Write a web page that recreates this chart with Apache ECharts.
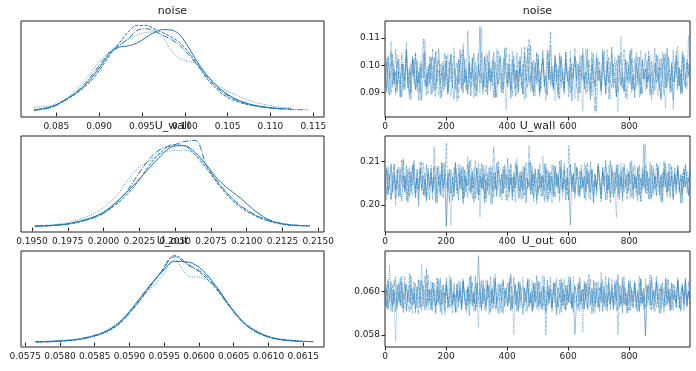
<!DOCTYPE html>
<html><head><meta charset="utf-8">
<script src="https://cdn.jsdelivr.net/npm/echarts@6/dist/echarts.min.js"></script>
<style>html,body{margin:0;padding:0;background:#fff}#c{width:696px;height:371px}</style>
</head><body><div id="c"></div>
<script>
// ---- parameter names ----
const paramNames = ['noise', 'U_wall', 'U_out'];

// ---- KDE evaluation grids (parameter values) and densities per chain ----
const noiseKdeX = [0.0824,0.0834,0.0844,0.0854,0.0864,0.0874,0.0884,0.0894,0.0904,0.0914,0.0924,0.0934,0.0944,0.0954,0.0964,0.0974,0.0984,0.0994,0.1004,0.1014,0.1024,0.1034,0.1044,0.1054,0.1064,0.1074,0.1084,0.1094,0.1104,0.1114,0.1124,0.1134,0.1144];
const noiseKde1 = [2.7,3.6,5.4,8.7,13.2,18.6,25.2,34.2,44.7,55.2,59.4,60.6,63,67.8,72.6,75.3,75,70.8,59.7,46.8,35.7,26.7,19.8,14.7,10.8,8.1,6.3,5.1,4.2,3.6,3.3];
const noiseKde2 = [2.4,3.3,5.1,8.4,12.6,17.7,23.7,31.8,42.6,53.7,63.6,73.2,79.2,79.2,76.2,72.6,68.7,63.6,55.2,44.7,32.7,23.7,16.8,12.3,9.3,7.2,5.7,4.8,3.9,3.3];
const noiseKde3 = [4.8,5.4,6.6,9.6,14.4,21.6,29.7,40.2,49.2,56.7,61.8,66.6,70.2,72.6,73.2,68.7,56.7,49.2,46.8,43.8,35.7,27.6,22.2,18,14.4,11.4,9,7.2,5.7,4.8,4.2];
const noiseKde4 = [2.1,3,4.8,8.1,13.2,19.2,26.7,36.3,46.8,55.8,61.2,67.2,74.4,76.2,74.4,70.2,66.6,61.2,52.8,43.8,34.2,25.2,18.6,13.8,10.2,7.8,6,4.8,3.9,3.3,3,2.7,2.7];

const uwallKdeX = [0.1952,0.1960,0.1968,0.1976,0.1984,0.1992,0.2000,0.2008,0.2016,0.2024,0.2032,0.2040,0.2048,0.2056,0.2064,0.2072,0.2080,0.2088,0.2096,0.2104,0.2112,0.2120,0.2128,0.2136,0.2144];
const uwallKde1 = [2.7,3.2,4.3,6.4,10.7,16.1,24.7,38.6,55.7,74.5,94.3,113.6,128.1,129.7,119,98.6,76.1,60,46.1,30,16.6,8.6,4.8,3.2,2.7];
const uwallKde2 = [2.1,2.7,3.8,5.9,9.6,15,23.6,35.4,51.5,72.9,98.6,119,130.8,129.7,114.7,93.3,69.1,47.7,31.6,20.9,12.9,7.5,4.3,3.2,2.7];
const uwallKde3 = [3.2,3.8,5.4,8.6,13.9,20.9,31.6,47.7,71.8,94.3,105.1,117.4,121.7,122.2,115.8,95.9,71.8,50.4,34.3,22.5,13.9,8.6,5.4,3.8,3.2];
const uwallKde4 = [2.1,2.7,3.8,5.9,9.6,15,22.5,37,56.8,83.6,108.3,124.4,129.7,136,138,98,71.8,50.4,34.3,22.5,13.9,8.6,5.4,3.8];

const uoutKdeX = [0.05765,0.05785,0.05805,0.05825,0.05845,0.05865,0.05885,0.05905,0.05925,0.05945,0.05965,0.05985,0.06005,0.06025,0.06045,0.06065,0.06085,0.06105,0.06125,0.06145,0.06165];
const uoutKde1 = [10,14,21,31,59,111,204,363,550,709,834,827,744,578,370,204,107,52,24,14,10];
const uoutKde2 = [7,10,17,31,59,104,190,343,526,723,896,803,699,550,363,197,100,48,24,14,10];
const uoutKde3 = [3,7,17,35,66,121,215,353,516,664,848,682,664,571,377,211,114,52,31,17,10];
const uoutKde4 = [7,10,21,35,66,111,197,349,536,716,882,792,716,561,363,197,100,48,28,17];

// ---- trace samples (every ~5th draw, 4 chains) ----
const noiseTr1 = [.0921,.1012,.0948,.0889,.0996,.1041,.0932,.0975,.0903,.1023,.0958,.0884,.1006,.0942,.1052,.0917,.0981,.0899,.1034,.0963,
.0908,.1019,.0935,.0993,.0871,.0987,.1047,.0926,.0964,.1003,.0893,.0951,.1028,.0912,.0979,.1061,.0938,.0885,.0997,.0944,
.1015,.0902,.0969,.1039,.0924,.0876,.0983,.1008,.0931,.1057,.0956,.0897,.1024,.0949,.0913,.1001,.0887,.0972,.1044,.0936,
.0905,.0989,.1142,.0953,.0918,.1031,.0966,.0891,.1011,.0941,.0976,.1049,.0922,.0883,.0995,.1027,.0947,.0909,.1062,.0958,
.0929,.1004,.0878,.0968,.1036,.0915,.0982,.0899,.1018,.0952,.0894,.1043,.0962,.0919,.0991,.1072,.0934,.0886,.1009,.0945,
.1022,.0904,.0973,.1054,.0927,.0961,.0889,.1013,.0948,.0998,.0916,.1038,.0957,.0881,.0985,.1026,.0939,.0902,.1048,.0967,
.0923,.0994,.0869,.0978,.1033,.0943,.1005,.0897,.0959,.1041,.0912,.0986,.1059,.0931,.0874,.1002,.0954,.0921,.1029,.0946,
.0983,.0906,.1046,.0965,.0893,.1017,.0937,.0976,.1067,.0918,.0951,.0885,.0999,.1035,.0928,.0971,.0902,.1021,.0944,.0988,
.1056,.0913,.0962,.0879,.1007,.0949,.1031,.0924,.0896,.0981,.1045,.0935,.0967,.0891,.1014,.0958,.0908,.1039,.0941,.0992,
.0873,.0979,.1025,.0917,.1063,.0952,.0899,.1003,.0938,.0969,.1034,.0911,.0985,.0894,.1051,.0947,.0926,.1012,.0964,.0988];
const noiseTr2 = [.0988,.0914,.1031,.0952,.0896,.1017,.0943,.1058,.0927,.0979,.0883,.1004,.0961,.0909,.1039,.0936,.0993,.0872,.1022,.0957,
.1046,.0918,.0974,.0901,.1013,.1097,.0945,.0889,.0998,.0931,.1027,.0966,.0905,.1052,.0939,.0984,.0877,.1008,.0953,.0921,
.1036,.0897,.0969,.1043,.0916,.0991,.0942,.0868,.1019,.0962,.0908,.1061,.0934,.0981,.0893,.1011,.0947,.1029,.0923,.0975,
.0886,.1002,.0958,.1048,.0912,.0967,.0899,.1037,.0944,.0989,.0926,.1016,.0879,.0971,.1054,.0937,.0903,.0996,.1024,.0951,
.0917,.1041,.0963,.0888,.1006,.0948,.0982,.0911,.1033,.0959,.0894,.1069,.0941,.0976,.1097,.0929,.1012,.0901,.0968,.1045,
.0935,.0884,.0994,.1026,.0919,.0973,.1057,.0946,.1125,.0955,.0907,.1018,.0938,.0986,.0874,.1035,.0964,.0913,.1049,.0942,
.0979,.0896,.1009,.0954,.1028,.0922,.0869,.0997,.0949,.1063,.0931,.0977,.0904,.1021,.0961,.0888,.1042,.0939,.0832,.0984,
.1014,.0925,.0958,.1053,.0899,.0972,.1031,.0944,.0915,.1007,.0953,.0882,.1038,.0967,.0921,.0993,.1059,.0936,.0876,.1001,
.0948,.1024,.0909,.0975,.1047,.0928,.0962,.0893,.1016,.0951,.0987,.0912,.1034,.0945,.0873,.0998,.1064,.0934,.0969,.0905,
.1027,.0957,.0891,.1043,.0939,.0981,.0918,.1011,.0872,.0964,.1052,.0926,.0994,.0902,.1036,.0949,.0916,.1022,.0968,.0941];
const noiseTr3 = [.0947,.1026,.0895,.0983,.1089,.0932,.0971,.0906,.1038,.0954,.0881,.1013,.0962,.0919,.1058,.0941,.0876,.0996,.1021,.0929,
.1047,.0905,.0967,.0867,.1009,.0953,.1096,.0918,.0985,.0938,.1032,.0897,.0974,.1051,.0926,.0889,.1003,.0959,.1016,.0912,
.0978,.1042,.0934,.0884,.0991,.1066,.0945,.0903,.1024,.0961,.0917,.1081,.0937,.0972,.0894,.1035,.0952,.0986,.0879,.1012,
.0944,.1003,.0898,.1138,.0963,.0921,.1044,.0936,.0989,.0907,.1019,.0955,.0885,.1061,.0931,.0976,.0899,.1029,.0948,.0836,
.1007,.0966,.0914,.1053,.0939,.0981,.0891,.1017,.0958,.1066,.0925,.0873,.0995,.1037,.0942,.0904,.1012,.0969,.0887,.1049,
.0934,.0979,.0911,.1028,.0956,.0896,.1041,.0947,.1073,.0922,.0988,.0869,.1006,.0951,.1034,.0916,.0974,.0893,.1023,.0962,
.0938,.1055,.0908,.0984,.0877,.1015,.0949,.1038,.0927,.0831,.0997,.1062,.0935,.0968,.0902,.1026,.0954,.0918,.1047,.0943,
.0981,.0889,.1011,.0966,.0924,.1059,.0937,.0875,.1003,.0958,.1032,.0914,.0829,.0992,.1106,.0945,.0906,.1019,.0971,.0933,
.1044,.0898,.0964,.1027,.0919,.0986,.0882,.1055,.0952,.0976,.0907,.1016,.0943,.1038,.0895,.0969,.1004,.0929,.0887,.1021,
.0962,.1049,.0911,.0842,.0998,.1033,.0939,.0975,.0839,.1013,.0956,.1071,.0924,.0985,.0901,.1028,.0947,.0966,.1109,.0931];
const noiseTr4 = [.0971,.0902,.1035,.0949,.1052,.0917,.0984,.0889,.1019,.0958,.0931,.1044,.0908,.0976,.1084,.0938,.0893,.1006,.0962,.1027,
.0914,.0981,.0874,.1011,.0953,.1043,.0922,.0968,.0896,.1031,.0947,.1059,.0919,.0885,.0997,.1023,.0936,.0973,.0906,.1048,
.0957,.0891,.1014,.0942,.0979,.1036,.0912,.0964,.0878,.1002,.1041,.0928,.0986,.0904,.1128,.0951,.0919,.1024,.0945,.0887,
.1008,.1045,.0933,.0969,.0891,.1029,.0958,.0913,.1057,.0939,.0982,.0878,.1012,.0961,.0926,.1038,.0948,.0897,.0994,.1066,
.0934,.0975,.0909,.1021,.0954,.0885,.1047,.0941,.0987,.0916,.1004,.0952,.0882,.1068,.0937,.0972,.0903,.1018,.0963,.0929,
.1039,.0895,.0979,.1011,.0944,.0871,.0992,.1053,.0925,.0967,.0911,.1032,.0956,.0898,.1046,.0938,.0985,.0917,.1007,.0959,
.0884,.1024,.0947,.0973,.1061,.0921,.0901,.0996,.1035,.0942,.0968,.0893,.1017,.0955,.0912,.1049,.0933,.0826,.0988,.1027,
.0946,.0907,.1058,.0964,.0924,.1003,.0876,.0981,.1039,.0937,.0962,.1021,.0897,.0989,.1046,.0915,.0953,.0883,.1012,.0971,
.0929,.1063,.0944,.0905,.0997,.1031,.0958,.0889,.1024,.0949,.0986,.0918,.1052,.0936,.0974,.0892,.1009,.0961,.1037,.0923,
.0878,.0993,.1044,.0947,.0915,.1028,.0966,.0902,.1055,.0938,.0981,.1015,.0926,.0969,.0897,.1041,.0952,.0913,.1006,.0975];

const uwallTr1 = [.2038,.2081,.2024,.2063,.2095,.2031,.2072,.2015,.2058,.2087,.2042,.2009,.2069,.2034,.2091,.2053,.2019,.2077,.2046,.2103,
.2027,.2061,.1998,.2084,.2039,.2068,.2021,.2093,.2049,.2012,.2075,.2035,.2089,.2057,.2004,.2066,.2028,.2098,.2043,.2071,
.1952,.2059,.2083,.2026,.2064,.2033,.2096,.2047,.2011,.2079,.2036,.2088,.2018,.2062,.2045,.2101,.2029,.2073,.2007,.2055,
.2084,.2023,.2067,.2041,.2092,.2014,.2058,.2032,.2086,.2049,.2003,.2074,.2037,.2097,.2052,.2019,.2069,.2028,.2081,.2044,
.2108,.2031,.2063,.2011,.2076,.2039,.2093,.2056,.2017,.2068,.2034,.2087,.2005,.2061,.2042,.2099,.2025,.2072,.2048,.2013,
.2082,.2036,.2066,.2021,.2094,.2051,.2008,.2078,.2033,.2065,.2019,.2089,.2046,.2071,.2027,.2104,.2038,.2059,.2012,.2085,
.2043,.1954,.2068,.2031,.2097,.2055,.2022,.2079,.2037,.2062,.2016,.2091,.2048,.2074,.2029,.2083,.2006,.2057,.2039,.2096,
.2064,.2024,.2087,.2045,.2011,.2073,.2034,.2102,.2052,.2018,.2076,.2041,.2093,.2026,.2065,.2009,.2084,.2047,.2071,.2032,
.2098,.2056,.2015,.2069,.2038,.2088,.2023,.2061,.2044,.2139,.2027,.2079,.2049,.2013,.2092,.2036,.2067,.2021,.2085,.2053,
.2008,.2074,.2042,.2096,.2031,.2063,.2017,.2089,.2046,.2072,.2025,.2083,.2051,.2004,.2067,.2039,.2094,.2058,.2022,.2076];
const uwallTr2 = [.2071,.2025,.2089,.2043,.2012,.2066,.2094,.2034,.2057,.2019,.2082,.2047,.2103,.2028,.2069,.2006,.2075,.2041,.2092,.2053,
.2016,.2084,.2037,.2062,.2099,.2023,.2059,.2013,.2078,.2046,.2091,.2032,.2068,.2008,.2086,.2051,.2021,.2097,.2039,.2064,
.2143,.2029,.2073,.2044,.2011,.2088,.2055,.2026,.2093,.2036,.2067,.2002,.2081,.2048,.2017,.2074,.2104,.2038,.2061,.2014,
.2085,.2049,.2024,.2096,.2033,.2071,.2009,.2063,.2042,.2089,.2052,.2018,.2077,.2035,.2101,.2056,.2027,.2083,.2045,.2012,
.2069,.2039,.2094,.2021,.2062,.2007,.2087,.2048,.2031,.2079,.2015,.2065,.2098,.2037,.2054,.2023,.2091,.2043,.2072,.2003,
.2081,.2052,.2019,.2068,.2034,.2095,.2046,.2013,.2076,.2058,.2026,.2089,.2041,.2064,.2008,.2083,.2036,.2097,.2049,.2022,
.2137,.2067,.2031,.2074,.2015,.2086,.2054,.2028,.2092,.2043,.2061,.2011,.2079,.2038,.2101,.2047,.2024,.2069,.2033,.2088,
.2056,.2014,.2075,.2045,.2096,.2027,.2063,.2005,.2082,.2051,.2034,.2093,.2018,.2071,.2042,.2087,.2029,.2059,.2012,.2078,
.2048,.2102,.2036,.2066,.2021,.2084,.2055,.2009,.2073,.2039,.2091,.2026,.2062,.2044,.2016,.2081,.2037,.2097,.2052,.2023,
.2069,.2011,.2086,.2041,.2075,.2032,.2094,.2057,.2019,.2064,.2047,.2088,.2029,.2072,.2006,.2083,.2043,.2061,.2024,.2079];
const uwallTr3 = [.2054,.2012,.2077,.2039,.2091,.2026,.2068,.1999,.2083,.2045,.2018,.2073,.2108,.2035,.2061,.2009,.2087,.2049,.2023,.2094,
.2041,.2066,.2013,.2079,.2032,.2098,.2052,.2019,.2071,.2037,.2085,.2027,.2064,.2006,.2089,.2044,.2072,.2021,.2095,.2058,
.1951,.2076,.2034,.1953,.2068,.2016,.2088,.2047,.2029,.2093,.2063,.2008,.2081,.2042,.2112,.2031,.2069,.2014,.2086,.2053,
.2025,.2097,.1972,.2061,.2039,.2084,.2017,.2074,.2045,.2002,.2091,.2033,.2066,.2022,.2079,.2048,.2011,.2089,.2037,.2072,
.2056,.2019,.2094,.2028,.2065,.2043,.2109,.2035,.2077,.2013,.2062,.2087,.2024,.2051,.2099,.2031,.2069,.2008,.2082,.2046,
.2021,.2074,.2039,.2113,.2057,.2015,.2083,.2034,.2067,.2004,.2092,.2045,.2071,.2027,.2086,.2052,.2018,.2078,.2036,.2063,
.2011,.2094,.2043,.2069,.2029,.2087,.2054,.2022,.2075,.2038,.2098,.2031,.2064,.2016,.2081,.2047,.2004,.2072,.2035,.2089,
.2059,.2023,.2085,.2041,.2066,.2012,.2093,.2049,.2027,.2076,.2033,.1971,.2068,.2044,.2097,.2018,.2061,.2039,.2083,.2052,
.2014,.2079,.2035,.2092,.2056,.2026,.2071,.2008,.2087,.2042,.2141,.2064,.2031,.2075,.2017,.2089,.2048,.2023,.2094,.2037,
.2069,.2005,.2081,.2054,.2029,.2096,.2043,.2067,.2015,.2078,.2032,.2086,.2051,.2019,.2073,.2045,.2091,.2027,.2062,.2038];
const uwallTr4 = [.2046,.2087,.2029,.2071,.2014,.2063,.2095,.2037,.2081,.2022,.2058,.2103,.2041,.2068,.2011,.2084,.2049,.2026,.2092,.2055,
.2019,.2077,.2036,.2099,.2061,.2024,.2073,.2008,.2086,.2043,.2066,.2013,.2134,.2052,.2028,.2089,.2047,.2075,.2017,.2096,
.2039,.2064,.2006,.2082,.2053,.2021,.2098,.2034,.2072,.2045,.2088,.2016,.2067,.2031,.2093,.2049,.2025,.2079,.2042,.2102,
.2057,.2012,.2084,.2038,.2069,.2003,.2091,.2046,.2023,.2076,.2035,.2135,.2061,.2019,.2087,.2044,.2072,.2027,.2095,.2053,
.2009,.2081,.2048,.2066,.2031,.2099,.2055,.2014,.2074,.2039,.2089,.2022,.2063,.2047,.2136,.2034,.2078,.2016,.2085,.2051,
.2028,.2096,.2043,.2069,.2006,.2083,.2037,.2071,.2024,.2092,.2059,.2015,.2077,.2041,.2101,.2052,.2029,.2086,.2035,.2064,
.2011,.2094,.2048,.2073,.2026,.2088,.2057,.2019,.2079,.2042,.2067,.2032,.2097,.2054,.2013,.2082,.2039,.2071,.2021,.2089,
.2046,.2007,.2075,.2058,.2103,.2033,.2068,.2017,.2091,.2044,.2025,.2084,.2051,.2012,.2077,.2038,.2096,.2062,.2028,.2073,
.2054,.2019,.2087,.2041,.2066,.2009,.2093,.2047,.2031,.2081,.2036,.2074,.2014,.2098,.2052,.2023,.2069,.2043,.2089,.2027,
.2064,.2038,.2103,.2056,.2018,.2079,.2045,.2071,.2011,.2086,.2049,.2092,.2033,.2067,.2024,.2083,.2041,.2076,.2052,.2097];

const uoutTr1 = [.05942,.06011,.05918,.05987,.06043,.05931,.05996,.05907,.06028,.05955,.06062,.05924,.05978,.06034,.05912,.06003,.05949,.06071,.05935,.05991,
.05902,.06019,.05961,.05927,.06048,.05969,.05914,.06102,.05946,.06007,.05921,.06037,.05983,.05898,.06015,.05952,.06059,.05938,.05994,.05909,
.06024,.05966,.05929,.06052,.05941,.05988,.05903,.06031,.05957,.06006,.05916,.06045,.05974,.05933,.06012,.05889,.05998,.06039,.05947,.06068,
.05926,.06162,.05985,.05911,.06026,.05958,.05934,.06049,.05971,.05905,.06017,.05943,.06058,.05922,.05992,.06034,.05951,.05899,.06009,.05967,
.05931,.06041,.05912,.05979,.06063,.05938,.06002,.05919,.06029,.05954,.05894,.06013,.05962,.06047,.05927,.05989,.05908,.06035,.05948,.06071,
.05936,.05995,.05917,.06024,.05968,.05903,.06051,.05944,.06008,.05925,.06038,.05959,.05892,.06016,.05973,.06056,.05932,.05987,.05913,.06027,
.05951,.06064,.05921,.05994,.05804,.05962,.06033,.05939,.06005,.05918,.06044,.05956,.05928,.06019,.05981,.05897,.06052,.05945,.06011,.05934,
.05977,.06039,.05909,.06024,.05964,.05929,.06061,.05942,.05998,.05915,.06032,.05958,.06077,.05931,.05986,.05902,.06021,.05969,.05937,.06048,
.05911,.06003,.05953,.06036,.05924,.05991,.05906,.06057,.05945,.06014,.05797,.05972,.06029,.05938,.06066,.05919,.05983,.06041,.05952,.05899,
.06018,.05965,.05927,.06053,.05941,.06006,.05913,.06034,.05961,.05988,.05924,.06045,.05976,.05908,.06023,.05947,.06059,.05934,.06001,.05969];
const uoutTr2 = [.06018,.05927,.06054,.05963,.05908,.06031,.05945,.06067,.05921,.05989,.05936,.06043,.05901,.05978,.06025,.05954,.06081,.05917,.06006,.05941,
.06036,.05963,.05898,.06049,.05931,.05992,.06071,.05924,.06012,.05957,.05911,.06039,.05972,.05933,.06058,.05946,.06003,.05894,.06027,.05968,
.06044,.05919,.05985,.06062,.05939,.05997,.05906,.06034,.05951,.06016,.05926,.06047,.05961,.05903,.06021,.05944,.06068,.05929,.05993,.05913,
.06038,.05957,.06009,.05921,.06052,.05971,.05934,.06027,.05896,.06003,.05948,.06061,.05917,.05982,.06035,.05942,.05908,.06049,.05965,.06014,
.05931,.05989,.06079,.05924,.05968,.06031,.05905,.06042,.05953,.05997,.06021,.05938,.05974,.05911,.06057,.05946,.06006,.05929,.06036,.05962,
.05915,.06044,.05981,.05933,.06019,.05801,.06002,.05948,.06063,.05927,.05994,.06037,.05912,.05969,.06051,.05936,.06008,.05921,.06029,.05955,
.06068,.05941,.05987,.05903,.06024,.05963,.05929,.06046,.05951,.06012,.05916,.06033,.05976,.06079,.05938,.05999,.05907,.06041,.05964,.05922,
.06018,.05947,.06055,.05931,.05985,.05909,.06037,.05958,.06011,.05926,.06048,.05969,.05914,.06026,.05942,.06063,.05935,.05992,.05901,.06031,
.05952,.06017,.05928,.06044,.05961,.05906,.06038,.05947,.05993,.05919,.06057,.05939,.05981,.06024,.05912,.06006,.05954,.06069,.05928,.05975,
.06034,.05943,.05902,.06015,.05966,.06052,.05932,.05988,.05914,.06027,.05949,.06061,.05921,.05997,.06036,.05937,.06008,.05926,.06043,.05958];
const uoutTr3 = [.05961,.06032,.05918,.06118,.05946,.06003,.05927,.05773,.05989,.06041,.05935,.06012,.05957,.06067,.05909,.05984,.06028,.05942,.05897,.06019,
.05969,.05924,.06054,.05951,.06121,.05931,.05996,.06036,.05913,.05978,.06045,.05938,.06009,.05903,.06061,.05955,.05926,.06024,.05962,.05891,
.06033,.05947,.06072,.05921,.05985,.06014,.05936,.05902,.06048,.05968,.05915,.06039,.05958,.06006,.05929,.06064,.05941,.05991,.05908,.06022,
.05973,.05836,.06044,.05934,.05997,.05916,.06053,.05961,.06027,.05939,.06009,.05924,.06081,.05952,.05987,.05898,.06036,.05964,.05931,.06018,
.05943,.06058,.05912,.05979,.05802,.06024,.05956,.06042,.05927,.05993,.06066,.05937,.05904,.06031,.05971,.05945,.06049,.05918,.06001,.05959,
.06037,.05928,.05985,.06072,.05939,.05909,.06026,.05966,.06013,.05921,.05994,.06045,.05933,.05962,.05896,.06034,.05951,.06057,.05913,.06006,
.05947,.06021,.05925,.06068,.05941,.05978,.06039,.05908,.05974,.05812,.06028,.05955,.06049,.05919,.05986,.06014,.05937,.05901,.06042,.05967,
.05929,.06087,.05952,.06004,.05916,.06031,.05961,.05934,.06059,.05946,.05995,.05911,.06036,.05972,.05927,.06048,.05942,.06017,.05903,.05983,
.06054,.05936,.05964,.06023,.05914,.05989,.06071,.05931,.05998,.05949,.05794,.06029,.05958,.05918,.06046,.05967,.06008,.05926,.06035,.05954,
.05901,.06018,.05944,.06062,.05932,.05991,.05912,.06041,.05963,.06004,.05928,.06049,.05956,.05919,.06027,.05973,.06056,.05938,.05996,.05941];
const uoutTr4 = [.05994,.05925,.06047,.05952,.06013,.05906,.06056,.05961,.05932,.06029,.05948,.06069,.05917,.05986,.06034,.05939,.05903,.06021,.05966,.06043,
.05921,.05992,.06051,.05944,.05909,.06026,.05963,.05931,.06074,.05956,.06011,.05912,.06038,.05968,.05935,.06053,.05907,.05989,.06029,.05946,
.06062,.05929,.05976,.06017,.05901,.06041,.05958,.06006,.05923,.06046,.05937,.06058,.05965,.05914,.06024,.05952,.06071,.05939,.05998,.05911,
.06035,.05961,.05927,.06049,.05943,.06012,.05906,.06031,.05974,.06065,.05919,.05983,.06042,.05934,.05896,.06022,.05957,.06054,.05929,.05991,
.06037,.05945,.06071,.05917,.05979,.06028,.05938,.05909,.06044,.05963,.05926,.06016,.05951,.06059,.05933,.05996,.05912,.06039,.05967,.05922,
.06048,.05941,.06003,.05915,.06066,.05954,.05931,.06024,.05973,.05907,.06036,.05949,.06057,.05928,.05987,.05902,.06041,.05962,.06014,.05938,
.05981,.06049,.05921,.05968,.06032,.05944,.05911,.06061,.05956,.06006,.05932,.06038,.05914,.05992,.06054,.05941,.06011,.05926,.05978,.06043,
.05906,.06022,.05964,.05935,.06068,.05951,.05998,.05916,.06031,.05959,.05939,.06052,.05803,.05984,.06027,.05946,.06066,.05929,.05993,.05912,
.06041,.05967,.05923,.06036,.05954,.06003,.05918,.06057,.05942,.05986,.05927,.06029,.05961,.06074,.05936,.05997,.05908,.06046,.05955,.06012,
.05921,.06039,.05971,.05933,.06058,.05947,.06009,.05915,.06032,.05964,.05941,.06051,.05926,.05987,.06023,.05912,.06044,.05958,.05999,.05934];

const lastDraw = 999;

// ---- tick values ----
const noiseKdeTicks = [0.085,0.090,0.095,0.100,0.105,0.110,0.115];
const uwallKdeTicks = [0.1950,0.1975,0.2000,0.2025,0.2050,0.2075,0.2100,0.2125,0.2150];
const uoutKdeTicks = [0.0575,0.0580,0.0585,0.0590,0.0595,0.0600,0.0605,0.0610,0.0615];
const drawTicks = [0,200,400,600,800];
const noiseTraceTicks = [0.09,0.10,0.11];
const uwallTraceTicks = [0.20,0.21];
const uoutTraceTicks = [0.058,0.060];

// ---- build ----
const FONT = 'DejaVu Sans';
const COLOR = '#1f77b4';
const INK = '#222';
const chainTypes = ['solid', [3.3,1.4], [0.9,1.5], [5.8,1.4,0.9,1.4]];
const traceTypes = ['solid', [3.3,1.0], [1.2,0.8], [5.8,1.0,1.2,1.0]];

const rows = [
  {name: paramNames[0], kx: noiseKdeX, kd: [noiseKde1,noiseKde2,noiseKde3,noiseKde4], tr: [noiseTr1,noiseTr2,noiseTr3,noiseTr4],
   kMin: 0.08088, kMax: 0.11625, kTicks: noiseKdeTicks, kDec: 3, tMin: 0.08096, tMax: 0.11630, tTicks: noiseTraceTicks, tDec: 2},
  {name: paramNames[1], kx: uwallKdeX, kd: [uwallKde1,uwallKde2,uwallKde3,uwallKde4], tr: [uwallTr1,uwallTr2,uwallTr3,uwallTr4],
   kMin: 0.19423, kMax: 0.21540, kTicks: uwallKdeTicks, kDec: 4, tMin: 0.19384, tMax: 0.21586, tTicks: uwallTraceTicks, tDec: 2},
  {name: paramNames[2], kx: uoutKdeX, kd: [uoutKde1,uoutKde2,uoutKde3,uoutKde4], tr: [uoutTr1,uoutTr2,uoutTr3,uoutTr4],
   kMin: 0.05744, kMax: 0.06180, kTicks: uoutKdeTicks, kDec: 4, tMin: 0.05746, tMax: 0.06183, tTicks: uoutTraceTicks, tDec: 3}
];

const rowTop = [21, 136, 251];
const H = 96;
const grids = [], xAxes = [], yAxes = [], series = [], graphics = [];

function tickCfg(vals) {
  return {show: true, customValues: vals, length: 3.5, inside: false, lineStyle: {color: INK, width: 1}};
}
function labelCfg(vals, dec, margin) {
  return {show: true, customValues: vals, formatter: v => Number(v).toFixed(dec), fontSize: 9, color: INK, fontFamily: FONT, margin: margin, hideOverlap: false};
}

rows.forEach((r, ri) => {
  const top = rowTop[ri];
  grids.push({left: 21, top: top, width: 303, height: H, show: true, borderColor: INK, borderWidth: 1, containLabel: false, outerBoundsMode: 'none'});
  grids.push({left: 385, top: top, width: 305, height: H, show: true, borderColor: INK, borderWidth: 1, containLabel: false, outerBoundsMode: 'none'});
  const gk = ri * 2, gt = ri * 2 + 1;
  let M = 0;
  r.kd.forEach(d => d.forEach(v => { if (v > M) M = v; }));
  xAxes.push({gridIndex: gk, type: 'value', min: r.kMin, max: r.kMax, axisLine: {show: false}, splitLine: {show: false},
    axisTick: tickCfg(r.kTicks), axisLabel: labelCfg(r.kTicks, r.kDec, 5)});
  yAxes.push({gridIndex: gk, type: 'value', min: -0.05 * M, max: 1.05 * M, axisLine: {show: false}, splitLine: {show: false},
    axisTick: {show: false}, axisLabel: {show: false}});
  xAxes.push({gridIndex: gt, type: 'value', min: 0, max: lastDraw, axisLine: {show: false}, splitLine: {show: false},
    axisTick: tickCfg(drawTicks), axisLabel: labelCfg(drawTicks, 0, 5)});
  yAxes.push({gridIndex: gt, type: 'value', min: r.tMin, max: r.tMax, axisLine: {show: false}, splitLine: {show: false},
    axisTick: tickCfg(r.tTicks), axisLabel: labelCfg(r.tTicks, r.tDec, 5)});

  r.tr.forEach((t, ci) => {
    const n = t.length;
    series.push({type: 'line', xAxisIndex: gt, yAxisIndex: gt, showSymbol: false, silent: true, clip: true,
      data: t.map((v, i) => [Math.round(i * lastDraw / (n - 1)), v]),
      lineStyle: {color: COLOR, width: 1, type: traceTypes[ci], opacity: 0.42}});
  });
  r.kd.forEach((d, ci) => {
    series.push({type: 'line', xAxisIndex: gk, yAxisIndex: gk, showSymbol: false, smooth: 0.35, silent: true,
      data: d.map((v, i) => [r.kx[i], v]),
      lineStyle: {color: COLOR, width: 1, type: chainTypes[ci], opacity: ci === 2 ? 0.85 : 1}});
  });

  const ty = top - 9.5;
  graphics.push({type: 'text', x: 21 + 303 / 2, y: ty, style: {text: r.name, align: 'center', verticalAlign: 'middle', fontSize: 11, fontFamily: FONT, fill: INK}, z: 100});
  graphics.push({type: 'text', x: 385 + 305 / 2, y: ty, style: {text: r.name, align: 'center', verticalAlign: 'middle', fontSize: 11, fontFamily: FONT, fill: INK}, z: 100});
});

const chart = echarts.init(document.getElementById('c'), null, {renderer: 'canvas'});
chart.setOption({
  animation: false,
  backgroundColor: '#fff',
  textStyle: {fontFamily: FONT},
  grid: grids, xAxis: xAxes, yAxis: yAxes, series: series, graphic: graphics
});
</script>
</body></html>
